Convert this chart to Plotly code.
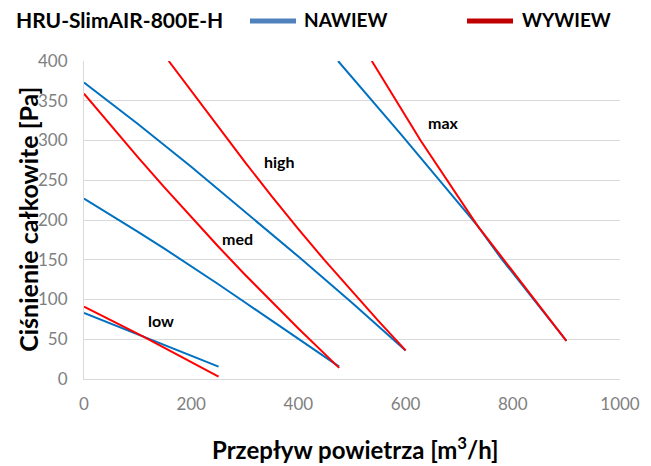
import plotly.graph_objects as go

# ---- data ----
low_naw_x = [0, 109, 251]
low_naw_y = [83, 54, 15.5]
low_wyw_x = [0, 109, 251]
low_wyw_y = [91, 54, 3]

med_naw_x = [0, 50, 100, 150, 200, 250, 300, 350, 400, 476]
med_naw_y = [227, 206.5, 185.5, 164, 142, 119.5, 96.5, 73.5, 50, 15.5]
med_wyw_x = [0, 50, 100, 150, 200, 250, 300, 350, 400, 476]
med_wyw_y = [359, 319, 279.5, 241, 203.5, 167, 131.5, 97, 63.5, 14]

high_naw_x = [0, 100, 200, 300, 400, 500, 600]
high_naw_y = [373, 321, 267, 211, 154, 96, 36]
high_wyw_x = [158, 200, 250, 300, 350, 400, 450, 500, 550, 600]
high_wyw_y = [400, 362, 317.5, 273, 230, 188.5, 148.5, 110, 72.5, 36]

max_naw_x = [474, 591, 734, 778, 900]
max_naw_y = [400, 308, 193, 152, 48]
max_wyw_x = [537, 591, 628, 734, 900]
max_wyw_y = [400, 341, 300, 193, 48]

labels = ["low", "med", "high", "max"]
label_x = [143, 287, 365, 671]
label_y = [74, 177, 274, 323]

x_ticks = [0, 200, 400, 600, 800, 1000]
y_ticks = [0, 50, 100, 150, 200, 250, 300, 350, 400]

title_text = "HRU-SlimAIR-800E-H"
series_names = ["NAWIEW", "WYWIEW"]
x_title = "Przepływ powietrza [m<sup>3</sup>/h]"
y_title = "Ciśnienie całkowite [Pa]"

BLUE = "#0070C0"
RED = "#FF0000"
LEG_BLUE = "#4F81BD"
LEG_RED = "#C00000"
FONT = "Lato"
OFF = 7  # page body offset

fig = go.Figure()

naw = [(low_naw_x, low_naw_y), (med_naw_x, med_naw_y), (high_naw_x, high_naw_y), (max_naw_x, max_naw_y)]
wyw = [(low_wyw_x, low_wyw_y), (med_wyw_x, med_wyw_y), (high_wyw_x, high_wyw_y), (max_wyw_x, max_wyw_y)]

for xs, ys in naw:
    fig.add_trace(go.Scatter(x=xs, y=ys, mode="lines", line=dict(color=BLUE, width=2),
                             name=series_names[0], showlegend=False, hoverinfo="skip"))
for xs, ys in wyw:
    fig.add_trace(go.Scatter(x=xs, y=ys, mode="lines", line=dict(color=RED, width=2),
                             name=series_names[1], showlegend=False, hoverinfo="skip"))

for t, lx, ly in zip(labels, label_x, label_y):
    fig.add_annotation(x=lx, y=ly, text="<b>%s</b>" % t, showarrow=False,
                       font=dict(family=FONT, size=16, color="#000000"))

# title
fig.add_annotation(xref="paper", yref="paper", x=-0.131, y=1.132, xanchor="left", yanchor="middle",
                   text="<b>%s</b>" % title_text, showarrow=False,
                   font=dict(family=FONT, size=21, color="#000000"))

# manual legend (line swatch + label)
leg_items = [(series_names[0], LEG_BLUE, 0.3097, 0.3955, 0.407),
             (series_names[1], LEG_RED, 0.7146, 0.8004, 0.813)]
for name, col, x0, x1, xt in leg_items:
    fig.add_shape(type="line", xref="paper", yref="paper", x0=x0, x1=x1, y0=1.126, y1=1.126,
                  line=dict(color=col, width=5))
    fig.add_annotation(xref="paper", yref="paper", x=xt, y=1.13, xanchor="left", yanchor="middle",
                       text="<b>%s</b>" % name, showarrow=False,
                       font=dict(family=FONT, size=19, color="#000000"))

fig.add_annotation(xref="paper", yref="paper", x=0.507, y=-0.217, xanchor="center", yanchor="middle",
                   text="<b>%s</b>" % x_title, showarrow=False,
                   font=dict(family=FONT, size=24, color="#000000"))
fig.add_annotation(xref="paper", yref="paper", x=-0.105, y=0.503, xanchor="center", yanchor="middle",
                   text="<b>%s</b>" % y_title, showarrow=False, textangle=-90,
                   font=dict(family=FONT, size=25, color="#000000"))

fig.update_layout(
    width=651 - OFF, height=466 - OFF,
    margin=dict(l=83 - OFF, r=32, t=60 - OFF, b=88, autoexpand=False),
    paper_bgcolor="white", plot_bgcolor="white",
    font=dict(family=FONT, color="#7F7F7F"),
    showlegend=False,
    xaxis=dict(range=[0, 1000], tickvals=x_ticks, showgrid=False, zeroline=False,
               showline=True, linecolor="#D9D9D9", linewidth=1, ticklabelstandoff=10,
               tickfont=dict(size=17, color="#7F7F7F"), ticks="", fixedrange=True),
    yaxis=dict(range=[0, 400], tickvals=y_ticks, showgrid=True, gridcolor="#D9D9D9", gridwidth=1,
               zeroline=False, showline=True, linecolor="#D9D9D9", linewidth=1, ticklabelstandoff=12,
               tickfont=dict(size=17, color="#7F7F7F"), ticks="", fixedrange=True),
)

fig.write_html("out.html")
